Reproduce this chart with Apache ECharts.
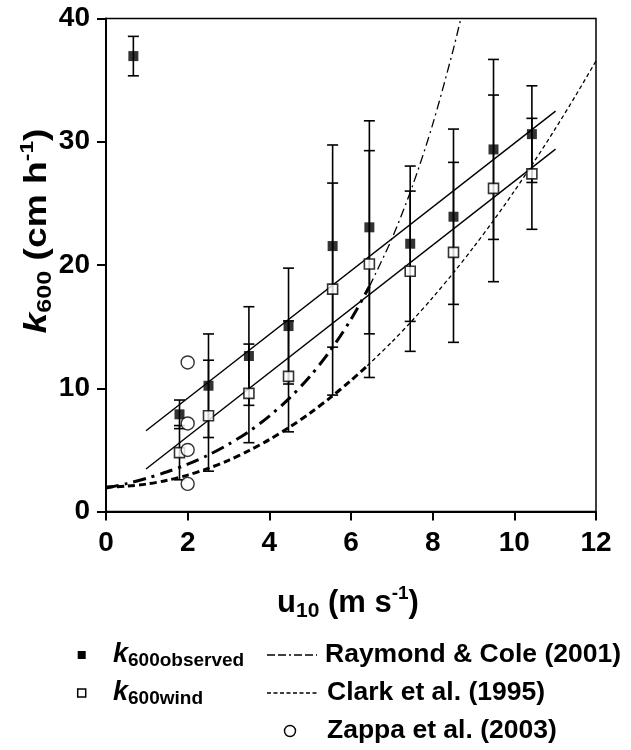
<!DOCTYPE html>
<html><head><meta charset="utf-8">
<script src="https://cdn.jsdelivr.net/npm/echarts@6/dist/echarts.min.js"></script>
<style>html,body{margin:0;padding:0;background:#fff}#c{width:631px;height:750px}</style>
</head><body><div id="c"></div>
<script>
const FONT = '"Liberation Sans", Arial, Helvetica, sans-serif';

// ---- data ----
const obsU   = [0.67, 1.80, 2.51, 3.50, 4.47, 5.55, 6.45, 7.45, 8.51, 9.49, 10.43];
const obsK   = [36.95, 7.89, 10.21, 12.62, 15.05, 21.54, 23.06, 21.73, 23.92, 29.38, 30.62];
const obsErr = [1.6, 1.16, 4.2, 4.0, 4.7, 8.2, 8.64, 6.3, 7.11, 7.3, 3.92];

const windU   = [1.80, 2.51, 3.50, 4.47, 5.55, 6.45, 7.45, 8.51, 9.49, 10.43];
const windK   = [4.78, 7.78, 9.59, 10.97, 18.05, 20.08, 19.5, 21.03, 26.22, 27.4];
const windErr = [2.2, 4.5, 4.0, 4.5, 8.6, 9.2, 6.5, 7.3, 7.57, 4.5];

const zappaU = [2.0, 2.0, 2.0, 2.0];
const zappaK = [12.1, 7.15, 5.0, 2.25];

const obsFitU  = [0.98, 11.01];
const obsFitK  = [6.56, 32.49];
const windFitU = [0.98, 11.01];
const windFitK = [3.45, 29.4];

const rcLowU  = [0, 0.5, 1, 1.5, 2, 2.5, 3, 3.5, 4, 4.5, 5, 5.5, 6, 6.45];
const rcLowK  = [1.91, 2.27, 2.71, 3.23, 3.85, 4.58, 5.46, 6.50, 7.75, 9.23, 10.99, 13.09, 15.60, 18.26];
const rcHighU = [6.45, 7, 7.5, 8, 8.5, 8.7];
const rcHighK = [18.26, 22.13, 26.36, 31.41, 37.42, 40.15];

const clLowU  = [0, 0.5, 1, 1.5, 2, 2.5, 3, 3.5, 4, 4.5, 5, 5.5, 6, 6.4];
const clLowK  = [2.0, 2.06, 2.24, 2.54, 2.96, 3.5, 4.16, 4.94, 5.84, 6.86, 8.0, 9.26, 10.64, 11.83];
const clHighU = [6.4, 7, 7.5, 8, 8.5, 9, 9.5, 10, 10.5, 11, 11.5, 12];
const clHighK = [11.83, 13.76, 15.5, 17.36, 19.34, 21.44, 23.66, 26.0, 28.46, 31.04, 33.74, 36.56];

const xTicks = [0, 2, 4, 6, 8, 10, 12];
const yTicks = [0, 10, 20, 30, 40];
const names = ['k600observed', 'k600wind', 'Raymond & Cole (2001)', 'Clark et al. (1995)', 'Zappa et al. (2003)'];

const zip = (a, b, c) => a.map((v, i) => c ? [v, b[i], c[i]] : [v, b[i]]);

function errBar(params, api) {
  const u = api.value(0), k = api.value(1), e = api.value(2);
  const top = api.coord([u, k + e]), bot = api.coord([u, k - e]);
  const hw = 5.5;
  const st = { stroke: '#000', lineWidth: 1.6 };
  return { type: 'group', children: [
    { type: 'line', shape: { x1: top[0], y1: top[1], x2: bot[0], y2: bot[1] }, style: st },
    { type: 'line', shape: { x1: top[0] - hw, y1: top[1], x2: top[0] + hw, y2: top[1] }, style: st },
    { type: 'line', shape: { x1: bot[0] - hw, y1: bot[1], x2: bot[0] + hw, y2: bot[1] }, style: st }
  ]};
}

const chart = echarts.init(document.getElementById('c'), null, { renderer: 'canvas' });

function titleRich(big, small, sup) {
  return {
    a: { fontFamily: FONT, fontWeight: 'bold', fontSize: big, lineHeight: big * 1.2, color: '#000', verticalAlign: 'middle' },
    i: { fontFamily: FONT, fontWeight: 'bold', fontStyle: 'italic', fontSize: big, lineHeight: big * 1.2, color: '#000', verticalAlign: 'middle' },
    b: { fontFamily: FONT, fontWeight: 'bold', fontSize: small, lineHeight: small * 1.1, color: '#000', verticalAlign: 'bottom' },
    c: { fontFamily: FONT, fontWeight: 'bold', fontSize: sup, lineHeight: sup * 1.05, color: '#000', verticalAlign: 'top' }
  };
}
const legRich = {
  k: { fontFamily: FONT, fontWeight: 'bold', fontStyle: 'italic', fontSize: 27, lineHeight: 30, color: '#000', verticalAlign: 'middle' },
  s: { fontFamily: FONT, fontWeight: 'bold', fontSize: 19, lineHeight: 22, color: '#000', verticalAlign: 'bottom' }
};
const legText = { fontFamily: FONT, fontWeight: 'bold', fontSize: 26.5, fill: '#000' };

const option = {
  animation: false,
  backgroundColor: '#fff',
  grid: { left: 106, right: 35, top: 18.5, bottom: 238.4, show: true, borderColor: '#000', borderWidth: 1.5, containLabel: false, outerBoundsMode: 'none' },
  xAxis: {
    type: 'value', min: xTicks[0], max: xTicks[xTicks.length - 1], interval: 2,
    axisLine: { show: true, onZero: false, lineStyle: { color: '#000', width: 2 } },
    axisTick: { show: true, length: 9, lineStyle: { color: '#000', width: 2 } },
    axisLabel: { color: '#000', fontFamily: FONT, fontWeight: 'bold', fontSize: 28, margin: 18 },
    splitLine: { show: false }
  },
  yAxis: {
    type: 'value', min: yTicks[0], max: yTicks[yTicks.length - 1], interval: 10,
    axisLine: { show: true, onZero: false, lineStyle: { color: '#000', width: 2 } },
    axisTick: { show: true, length: 9, lineStyle: { color: '#000', width: 2 } },
    axisLabel: { color: '#000', fontFamily: FONT, fontWeight: 'bold', fontSize: 28, margin: 16 },
    splitLine: { show: false }
  },
  series: [
    { type: 'line', name: names[2] + ' low', data: zip(rcLowU, rcLowK), smooth: 0.3, showSymbol: false, symbol: 'none',
      lineStyle: { color: '#000', width: 3, type: [13, 6, 3, 6] }, z: 2 },
    { type: 'line', name: names[2], data: zip(rcHighU, rcHighK), smooth: 0.3, showSymbol: false, symbol: 'none',
      lineStyle: { color: '#000', width: 1.3, type: [9, 4, 2, 4] }, z: 2 },
    { type: 'line', name: names[3] + ' low', data: zip(clLowU, clLowK), smooth: 0.3, showSymbol: false, symbol: 'none',
      lineStyle: { color: '#000', width: 3, type: [7, 4] }, z: 2 },
    { type: 'line', name: names[3], data: zip(clHighU, clHighK), smooth: 0.3, showSymbol: false, symbol: 'none',
      lineStyle: { color: '#000', width: 1.3, type: [4, 3] }, z: 2 },
    { type: 'line', name: 'fit observed', data: zip(obsFitU, obsFitK), showSymbol: false, symbol: 'none',
      lineStyle: { color: '#000', width: 1.4 }, z: 2 },
    { type: 'line', name: 'fit wind', data: zip(windFitU, windFitK), showSymbol: false, symbol: 'none',
      lineStyle: { color: '#000', width: 1.4 }, z: 2 },
    { type: 'custom', name: 'err observed', data: zip(obsU, obsK, obsErr), renderItem: errBar, encode: { x: 0, y: 1 }, z: 3 },
    { type: 'custom', name: 'err wind', data: zip(windU, windK, windErr), renderItem: errBar, encode: { x: 0, y: 1 }, z: 3 },
    { type: 'scatter', name: names[0], data: zip(obsU, obsK), symbol: 'rect', symbolSize: 10,
      itemStyle: { color: '#000' }, z: 5 },
    { type: 'scatter', name: names[1], data: zip(windU, windK), symbol: 'rect', symbolSize: 10,
      itemStyle: { color: '#fff', borderColor: '#000', borderWidth: 1.6 }, z: 5 },
    { type: 'scatter', name: names[4], data: zip(zappaU, zappaK), symbol: 'circle', symbolSize: 13,
      itemStyle: { color: '#fff', borderColor: '#000', borderWidth: 1.4 }, z: 5 }
  ],
  graphic: [
    // x-axis title
    { type: 'text', x: 348, y: 603, style: { text: '{a|u}{b|10}{a| (m s}{c|-1}{a|)}', rich: titleRich(31, 21, 19), align: 'center', verticalAlign: 'middle' } },
    // y-axis title
    { type: 'text', x: 37, y: 231, rotation: Math.PI / 2, scaleX: 1.2, style: { text: '{i|k}{b|600}{a| (cm h}{c|-1}{a|)}', rich: titleRich(31, 21, 19), align: 'center', verticalAlign: 'middle' } },
    // legend
    { type: 'rect', shape: { x: 77.7, y: 651, width: 8, height: 8 }, style: { fill: '#000' } },
    { type: 'text', x: 113, y: 655, style: { text: '{k|k}{s|600observed}', rich: legRich, align: 'left', verticalAlign: 'middle' } },
    { type: 'rect', shape: { x: 77.7, y: 689, width: 8, height: 8 }, style: { fill: '#fff', stroke: '#000', lineWidth: 1.5 } },
    { type: 'text', x: 113, y: 693, style: { text: '{k|k}{s|600wind}', rich: legRich, align: 'left', verticalAlign: 'middle' } },
    { type: 'line', shape: { x1: 267, y1: 655, x2: 317, y2: 655 }, style: { stroke: '#000', lineWidth: 1.6, lineDash: [8, 3, 8, 3, 2, 3] } },
    { type: 'text', x: 325, y: 655, style: Object.assign({ text: names[2], align: 'left', verticalAlign: 'middle' }, legText) },
    { type: 'line', shape: { x1: 267, y1: 693, x2: 319, y2: 693 }, style: { stroke: '#000', lineWidth: 1.6, lineDash: [4, 2.5] } },
    { type: 'text', x: 327, y: 693, style: Object.assign({ text: names[3], align: 'left', verticalAlign: 'middle' }, legText) },
    { type: 'circle', shape: { cx: 290, cy: 731, r: 5.5 }, style: { fill: '#fff', stroke: '#000', lineWidth: 1.4 } },
    { type: 'text', x: 327, y: 731, style: Object.assign({ text: names[4], align: 'left', verticalAlign: 'middle' }, legText) }
  ]
};
chart.setOption(option);
</script></body></html>
